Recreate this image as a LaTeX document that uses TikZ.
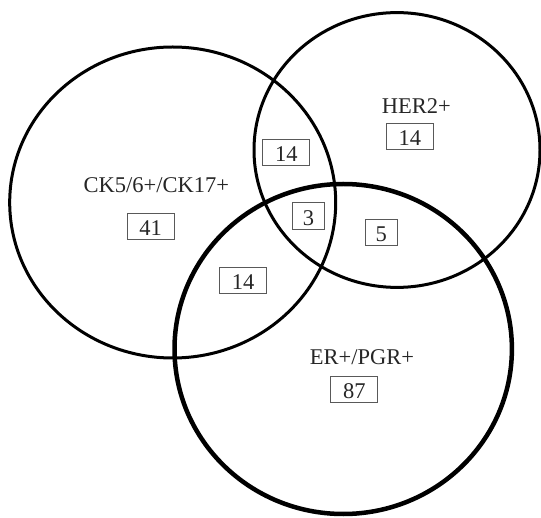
\documentclass[tikz,border=0pt]{standalone}
\usepackage{fontspec}
\setmainfont{Liberation Serif}
\begin{document}
\begin{tikzpicture}[x=1pt,y=-1pt,
  ring/.style={draw=black,line width=3pt},
  thickring/.style={draw=black,line width=4.5pt},
  setname/.style={text=black!85,font=\fontsize{22.5}{24}\selectfont,inner sep=0pt,anchor=base},
  countbox/.style={draw=black!65,line width=0.9pt,text=black!85,
    font=\fontsize{22.5}{24}\selectfont,inner sep=0pt,
    minimum height=26.5pt,text height=18.5pt,text depth=0pt},
  widebox/.style={countbox,minimum width=47pt},
  narrowbox/.style={countbox,minimum width=31.5pt}]
  \useasboundingbox (0,0) rectangle (541,518);

  % the three sets
  \draw[ring] (172.7,202.5) ellipse [x radius=163pt, y radius=155.5pt];
  \draw[ring] (397,150) ellipse [x radius=143pt, y radius=137.4pt];
  \draw[thickring] (343.2,349) ellipse [x radius=168.7pt, y radius=165pt];

  % set names
  \node[setname] (ck)  at (156.4,192.7) {CK5/6+/CK17+};
  \node[setname] (her) at (416.4,113.7) {HER2+};
  \node[setname] (er)  at (362,364.3)   {ER+/PGR+};

  % counts per region
  \node[widebox]   (nck)    at (150.5,226.5) {41};
  \node[widebox]   (nher)   at (409.9,136.7) {14};
  \node[widebox]   (nckher) at (286.3,152.6) {14};
  \node[narrowbox] (nall)   at (308.5,216)   {3};
  \node[narrowbox] (nherer) at (381.3,232.3) {5};
  \node[widebox]   (ncker)  at (243,280.3)   {14};
  \node[widebox]   (ner)    at (354.3,389.5) {87};
\end{tikzpicture}
\end{document}
